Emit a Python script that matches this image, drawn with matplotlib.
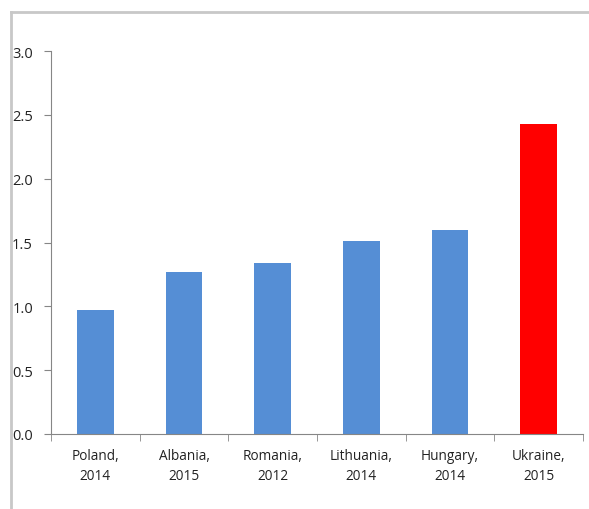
import matplotlib.pyplot as plt
from matplotlib.lines import Line2D
import numpy as np

# Values per country
countries = ["Poland,\n2014", "Albania,\n2015", "Romania,\n2012",
             "Lithuania,\n2014", "Hungary,\n2014", "Ukraine,\n2015"]
values = [0.97, 1.27, 1.34, 1.51, 1.60, 2.43]
colors = ["#558ED5"] * 5 + ["#FF0000"]

plt.rcParams["font.family"] = ["Open Sans", "DejaVu Sans"]

fig = plt.figure(figsize=(5.89, 5.10), dpi=100)
ax = fig.add_axes([51 / 589, 1 - 435 / 510, 532 / 589, 383 / 510])

x = np.arange(len(values))
ax.bar(x, values, width=0.41, color=colors)

ax.set_xlim(-0.5, len(values) - 0.5)
ax.set_ylim(0, 3.0)
ax.set_yticks(np.arange(0, 3.01, 0.5))
ax.set_yticklabels([f"{v:.1f}" for v in np.arange(0, 3.01, 0.5)])

# category labels in the middle, ticks on the boundaries
ax.set_xticks(x)
ax.set_xticklabels(countries, fontsize=9.8, color="#222222", linespacing=1.45)
ax.tick_params(axis="x", length=0, pad=10)
ax.set_xticks(np.arange(-0.5, len(values)), minor=True)
ax.tick_params(axis="x", which="minor", length=5, color="#868686")
ax.tick_params(axis="y", length=5, color="#868686", labelsize=10.5,
               labelcolor="#222222", pad=8)

for side in ["top", "right"]:
    ax.spines[side].set_visible(False)
for side in ["left", "bottom"]:
    ax.spines[side].set_color("#868686")
    ax.spines[side].set_linewidth(0.8)

# outer chart frame
fig.add_artist(Line2D([11 / 589, 11 / 589], [0, 1 - 13 / 510],
                      transform=fig.transFigure, color="#C8C8C8", lw=2))
fig.add_artist(Line2D([11 / 589, 1], [1 - 13 / 510, 1 - 13 / 510],
                      transform=fig.transFigure, color="#C8C8C8", lw=2))

fig.savefig("out.png", dpi=100)
